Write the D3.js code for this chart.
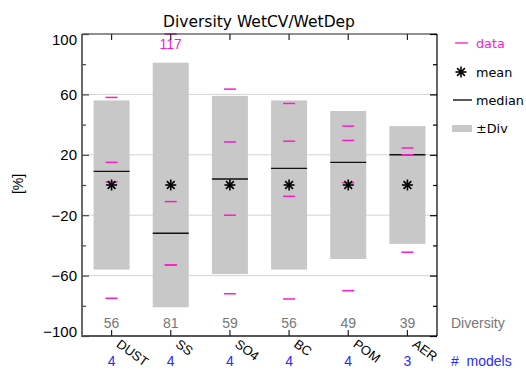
<!DOCTYPE html>
<html>
<head>
<meta charset="utf-8">
<script src="https://cdn.jsdelivr.net/npm/d3@7"></script>
<style>
  html, body { margin: 0; padding: 0; background: #fff; }
  svg { display: block; }
</style>
</head>
<body>
<svg id="chart" width="526" height="369"></svg>
<script>
// Relative diversity of wet-deposition lifetime-efficiency across models
const categories = ["DUST", "SS", "SO4", "BC", "POM", "AER"];
const diversity  = [56, 81, 59, 56, 49, 39];
const means      = [0, 0, 0, 0, 0, 0];
const medians    = [9, -32, 4, 11, 15, 20];
const nModels    = [4, 4, 4, 4, 4, 3];
const modelValues = [
  [58, 15, 2, -75],
  [117, -11, -53, -53],
  [63.5, 28.5, -20, -72],
  [54, 29, -7.5, -75.5],
  [39, 29.5, 1.5, -70],
  [24.5, 20, -44.5]
];
const yMajorTicks = [-100, -60, -20, 20, 60, 100];
const yMinorTicks = [-80, -40, 0, 40, 80];
const gridValues  = [-60, -20, 20, 60];

const MAGENTA = "#ff1ac8";
const BLUE = "#2a2aff";
const GREY_TXT = "#777";
const BAR = "#c8c8c8";

const svg = d3.select("#chart");
const plotL = 82, plotR = 437, plotT = 34, plotB = 336;

const x = d3.scaleBand().domain(categories).range([plotL, plotR]);
const y = d3.scaleLinear().domain([-100, 100]).range([plotB, plotT]);
const cx = c => x(c) + x.bandwidth() / 2;
const barW = 36, dataW = 12;

// title
svg.append("text")
  .attr("x", 259).attr("y", 27)
  .attr("text-anchor", "middle")
  .attr("font-family", "DejaVu Sans")
  .attr("font-size", 15.5)
  .attr("fill", "#000")
  .text("Diversity WetCV/WetDep");

// horizontal grid
svg.append("g").selectAll("line").data(gridValues).join("line")
  .attr("x1", plotL).attr("x2", plotR)
  .attr("y1", d => y(d)).attr("y2", d => y(d))
  .attr("stroke", "#d4d4d4").attr("stroke-width", 1);

// ±diversity bars
svg.append("g").selectAll("rect").data(categories).join("rect")
  .attr("x", c => cx(c) - barW / 2)
  .attr("width", barW)
  .attr("y", (c, i) => y(means[i] + diversity[i]))
  .attr("height", (c, i) => y(means[i] - diversity[i]) - y(means[i] + diversity[i]))
  .attr("fill", BAR);

// medians
svg.append("g").selectAll("line").data(categories).join("line")
  .attr("x1", c => cx(c) - barW / 2).attr("x2", c => cx(c) + barW / 2)
  .attr("y1", (c, i) => y(medians[i])).attr("y2", (c, i) => y(medians[i]))
  .attr("stroke", "#111").attr("stroke-width", 1.4);

// individual model values (clamped to the axis range, off-scale values annotated)
const pts = [];
modelValues.forEach((vals, i) => vals.forEach(v => pts.push({ c: categories[i], v })));
const clampV = v => Math.max(-100, Math.min(100, v));
svg.append("g").selectAll("line").data(pts).join("line")
  .attr("x1", d => cx(d.c) - dataW / 2).attr("x2", d => cx(d.c) + dataW / 2)
  .attr("y1", d => y(clampV(d.v))).attr("y2", d => y(clampV(d.v)))
  .attr("stroke", MAGENTA).attr("stroke-width", 1.5);
svg.append("g").selectAll("text").data(pts.filter(d => d.v > 100)).join("text")
  .attr("x", d => cx(d.c)).attr("y", y(100) + 15)
  .attr("text-anchor", "middle")
  .attr("font-family", "Liberation Sans, Arial, sans-serif")
  .attr("font-size", 14)
  .attr("fill", MAGENTA)
  .text(d => d3.format("d")(d.v));

// mean stars
function star(g, px, py, r) {
  const a = r * Math.SQRT1_2;
  const segs = [[-r, 0, r, 0], [0, -r, 0, r], [-a, -a, a, a], [-a, a, a, -a]];
  segs.forEach(s => g.append("line")
    .attr("x1", px + s[0]).attr("y1", py + s[1])
    .attr("x2", px + s[2]).attr("y2", py + s[3])
    .attr("stroke", "#000").attr("stroke-width", 1.6));
}
const starG = svg.append("g");
categories.forEach((c, i) => star(starG, cx(c), y(means[i]), 5.5));

// frame
svg.append("line").attr("x1", plotL).attr("x2", plotR).attr("y1", plotT).attr("y2", plotT)
  .attr("stroke", "#222").attr("stroke-width", 1.2);
svg.append("line").attr("x1", plotL).attr("x2", plotR).attr("y1", plotB).attr("y2", plotB)
  .attr("stroke", "#222").attr("stroke-width", 1.6);
svg.append("line").attr("x1", plotR).attr("x2", plotR).attr("y1", plotT).attr("y2", plotB)
  .attr("stroke", "#000").attr("stroke-width", 1.2);
svg.append("line").attr("x1", plotL).attr("x2", plotL).attr("y1", plotT).attr("y2", plotB + 1)
  .attr("stroke", "#6a6a6a").attr("stroke-width", 2);

// y axes (inward ticks)
const tickFont = "Liberation Sans, Arial, sans-serif";
const yLeft = svg.append("g").attr("transform", `translate(${plotL},0)`)
  .call(d3.axisLeft(y).tickValues(yMajorTicks).tickSize(-7).tickPadding(5).tickFormat(d3.format("d")));
yLeft.select(".domain").remove();
yLeft.selectAll(".tick line").attr("stroke", "#444").attr("stroke-width", 1.2);
yLeft.selectAll(".tick text")
  .attr("font-family", tickFont).attr("font-size", 15).attr("fill", "#000")
  .attr("dy", d => d === 100 ? "0.7em" : d === -100 ? "0.05em" : "0.32em");
const yLeftMinor = svg.append("g").attr("transform", `translate(${plotL},0)`)
  .call(d3.axisLeft(y).tickValues(yMinorTicks).tickSize(-4).tickFormat(""));
yLeftMinor.select(".domain").remove();
yLeftMinor.selectAll(".tick line").attr("stroke", "#444").attr("stroke-width", 1.2);

const yRight = svg.append("g").attr("transform", `translate(${plotR},0)`)
  .call(d3.axisRight(y).tickValues(yMajorTicks).tickSize(-7).tickFormat(""));
yRight.select(".domain").remove();
yRight.selectAll(".tick line").attr("stroke", "#000").attr("stroke-width", 1.2);
const yRightMinor = svg.append("g").attr("transform", `translate(${plotR},0)`)
  .call(d3.axisRight(y).tickValues(yMinorTicks).tickSize(-4).tickFormat(""));
yRightMinor.select(".domain").remove();
yRightMinor.selectAll(".tick line").attr("stroke", "#000").attr("stroke-width", 1.2);

// category ticks top and bottom
const xTop = svg.append("g").attr("transform", `translate(0,${plotT})`)
  .call(d3.axisTop(x).tickSize(-6).tickFormat(""));
xTop.select(".domain").remove();
xTop.selectAll(".tick line").attr("stroke", "#222").attr("stroke-width", 1.2);
const xBot = svg.append("g").attr("transform", `translate(0,${plotB})`)
  .call(d3.axisBottom(x).tickSize(-6).tickFormat(""));
xBot.select(".domain").remove();
xBot.selectAll(".tick line").attr("stroke", "#222").attr("stroke-width", 1.2);

// y title
svg.append("text")
  .attr("transform", "translate(23,184) rotate(-90)")
  .attr("text-anchor", "middle")
  .attr("font-family", tickFont).attr("font-size", 14).attr("fill", "#000")
  .text("[%]");

// diversity numbers
svg.append("g").selectAll("text").data(categories).join("text")
  .attr("x", c => cx(c)).attr("y", 328)
  .attr("text-anchor", "middle")
  .attr("font-family", tickFont).attr("font-size", 14).attr("fill", GREY_TXT)
  .text((c, i) => diversity[i]);
svg.append("text").attr("x", 451).attr("y", 328)
  .attr("font-family", tickFont).attr("font-size", 14).attr("fill", GREY_TXT)
  .text("Diversity");

// rotated category names
svg.append("g").selectAll("text").data(categories).join("text")
  .attr("transform", c => `translate(${cx(c) + 4},346) rotate(36)`)
  .attr("font-family", tickFont).attr("font-size", 13).attr("fill", "#000")
  .text(c => c);

// number of models
svg.append("g").selectAll("text").data(categories).join("text")
  .attr("x", c => cx(c)).attr("y", 366)
  .attr("text-anchor", "middle")
  .attr("font-family", tickFont).attr("font-size", 14).attr("fill", BLUE)
  .text((c, i) => nModels[i]);
svg.append("text").attr("x", 451).attr("y", 366)
  .attr("font-family", tickFont).attr("font-size", 14).attr("fill", BLUE)
  .attr("xml:space", "preserve")
  .text("#  models");

// legend
const lg = svg.append("g");
const legFont = "DejaVu Sans";
lg.append("line").attr("x1", 455).attr("x2", 468).attr("y1", 43).attr("y2", 43)
  .attr("stroke", MAGENTA).attr("stroke-width", 1.3);
lg.append("text").attr("x", 476).attr("y", 47.5)
  .attr("font-family", legFont).attr("font-size", 12.8).attr("fill", MAGENTA).text("data");
star(lg, 461, 72, 5.5);
lg.append("text").attr("x", 476).attr("y", 76.5)
  .attr("font-family", legFont).attr("font-size", 12.8).attr("fill", "#000").text("mean");
lg.append("line").attr("x1", 453).attr("x2", 472).attr("y1", 100).attr("y2", 100)
  .attr("stroke", "#000").attr("stroke-width", 1.3);
lg.append("text").attr("x", 476).attr("y", 104.5)
  .attr("font-family", legFont).attr("font-size", 12.8).attr("fill", "#000").text("median");
lg.append("rect").attr("x", 452).attr("y", 125).attr("width", 20).attr("height", 7)
  .attr("fill", BAR);
lg.append("text").attr("x", 476).attr("y", 132.5)
  .attr("font-family", legFont).attr("font-size", 12.8).attr("fill", "#000").text("±Div");
</script>
</body>
</html>
